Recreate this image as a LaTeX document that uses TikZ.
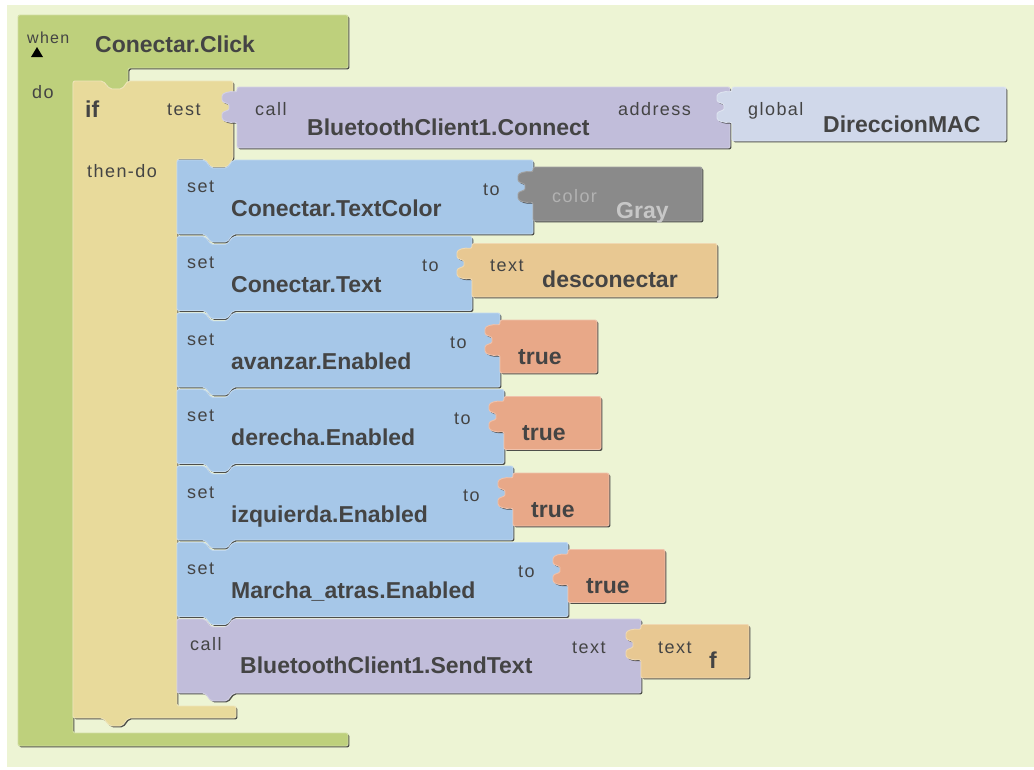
\documentclass[tikz,border=0pt]{standalone}
\usepackage{fontspec}
\setmainfont{Liberation Sans}
\newfontfamily\etiq[LetterSpace=8]{Liberation Sans}
\usetikzlibrary{shadows}

\definecolor{fondo}{RGB}{237,244,212}
\definecolor{verde}{RGB}{190,208,124}
\definecolor{arena}{RGB}{232,218,155}
\definecolor{lila}{RGB}{193,189,218}
\definecolor{celeste}{RGB}{208,216,234}
\definecolor{azul}{RGB}{166,199,232}
\definecolor{gris}{RGB}{138,138,138}
\definecolor{cadena}{RGB}{232,200,146}
\definecolor{salmon}{RGB}{232,168,136}
\definecolor{tinta}{RGB}{68,68,68}

\tikzset{
  bloque/.style={line width=0.9pt, rounded corners=2pt, line join=round,
    drop shadow={shadow xshift=1.4pt, shadow yshift=-1.4pt, fill=black!80, opacity=0.85}},
  evento/.style={bloque, fill=verde, draw=verde!70!white},
  condicion/.style={bloque, fill=arena, draw=arena!70!white},
  llamada/.style={bloque, fill=lila, draw=lila!70!white},
  asigna/.style={bloque, fill=azul, draw=azul!70!white},
  globalval/.style={bloque, fill=celeste, draw=celeste!70!white},
  grisval/.style={bloque, fill=gris, draw=gris!80!white},
  textoval/.style={bloque, fill=cadena, draw=cadena!70!white},
  logico/.style={bloque, fill=salmon, draw=salmon!70!white},
  pq/.style={font=\etiq\fontsize{18}{20}\selectfont, text=tinta, inner sep=0pt, anchor=base west},
  gr/.style={font=\fontsize{23}{26}\selectfont\bfseries, text=tinta, inner sep=0pt, anchor=base west}
}

% instruccion: arriba, derecha, estilo
\newcommand{\instruccion}[3]{%
  \draw[#3] (177,#1) -- (205,#1) -- (211,#1+8) -- (227,#1+8) -- (233,#1) -- (#2,#1)
    -- (#2,#1+74) -- (233,#1+74) -- (227,#1+82) -- (211,#1+82) -- (205,#1+74)
    -- (177,#1+74) -- cycle;}

% valor: izquierda, arriba, abajo, derecha, estilo
\newcommand{\valor}[5]{%
  \draw[#5] (#1,#2) -- (#4,#2) -- (#4,#3) -- (#1,#3) -- (#1,#2+35)
    .. controls (#1-8,#2+36) and (#1-15,#2+34) .. (#1-15,#2+29)
    .. controls (#1-15,#2+24) and (#1-8,#2+24) .. (#1-8,#2+20)
    .. controls (#1-8,#2+16) and (#1-15,#2+16) .. (#1-15,#2+11)
    .. controls (#1-15,#2+6) and (#1-8,#2+4) .. (#1,#2+5) -- cycle;}

\begin{document}
\begin{tikzpicture}[x=1pt, y=-1pt]

\useasboundingbox (0,0) rectangle (1034,769);
\fill[white] (0,0) rectangle (1034,769);
\fill[fondo] (7,5) rectangle (1034,767);

% Bloque when
\draw[evento] (18,15) -- (348,15) -- (348,68) -- (128,68) -- (128,82) -- (122,89)
  -- (110,89) -- (103,82) -- (73,82) -- (73,733) -- (348,733) -- (348,746)
  -- (18,746) -- cycle;
\node[pq, font=\etiq\fontsize{16}{18}\selectfont] (when) at (27,43) {when};
\fill[black] (31,57) -- (37,47) -- (43,57) -- cycle;
\node[gr] (click) at (95,52) {Conectar.Click};
\node[pq] (do) at (32,98) {do};

% Bloque if
\draw[condicion] (73,81) -- (103,81) -- (110,89) -- (122,89) -- (128,81) -- (233,81)
  -- (233,159) -- (227,167) -- (211,167) -- (205,159) -- (177,159) -- (177,706)
  -- (236,706) -- (236,718) -- (128,718) -- (122,726) -- (110,726) -- (103,718)
  -- (73,718) -- cycle;
\node[gr] (if) at (85,117) {if};
\node[pq] (test) at (167,115) {test};
\node[pq] (thendo) at (87,177) {then-do};

% Prueba
\valor{237}{87}{148}{730}{llamada}
\node[pq] (call0) at (255,115) {call};
\node[gr] (connect) at (307,135) {BluetoothClient1.Connect};
\node[pq] (address) at (618,115) {address};
\valor{732}{87}{141}{1006}{globalval}
\node[pq] (global) at (748,115) {global};
\node[gr] (mac) at (823,132) {DireccionMAC};

% Bloques set
\foreach \ya/\xd/\nom [count=\i] in {160/533/Conectar.TextColor, 236.5/472/Conectar.Text,
    313/500/avanzar.Enabled, 389.5/504/derecha.Enabled, 466/513/izquierda.Enabled,
    542.5/568/Marcha\_atras.Enabled}
{
  \instruccion{\ya}{\xd}{asigna}
  \node[pq] (set\i) at (187,\ya+32) {set};
  \node[gr] (prop\i) at (231,\ya+56) {\nom};
  \node[pq] (to\i) at (\xd-50,\ya+35) {to};
}

% Valores
\valor{533}{167}{221}{702}{grisval}
\node[pq, text=black!30] (color1) at (552,202) {color};
\node[gr, text=black!22] (gray1) at (616,218) {Gray};

\valor{472}{243.5}{297}{717}{textoval}
\node[pq] (text2) at (490,271.5) {text};
\node[gr] (desc2) at (542,287.5) {desconectar};

\foreach \ya/\xi/\xd [count=\i from 3] in {313/500/597, 389.5/504/601, 466/513/609, 542.5/568/665}
{
  \valor{\xi}{\ya+7}{\ya+60}{\xd}{logico}
  \node[gr] (true\i) at (\xi+18,\ya+51) {true};
}

% Bloque call
\instruccion{619}{641}{llamada}
\node[pq] (call7) at (190,650) {call};
\node[gr] (send7) at (240,673) {BluetoothClient1.SendText};
\node[pq] (arg7) at (572,653) {text};
\valor{641}{624.5}{678}{749}{textoval}
\node[pq] (text7) at (658,653) {text};
\node[gr] (f7) at (709,668) {f};

\end{tikzpicture}
\end{document}
